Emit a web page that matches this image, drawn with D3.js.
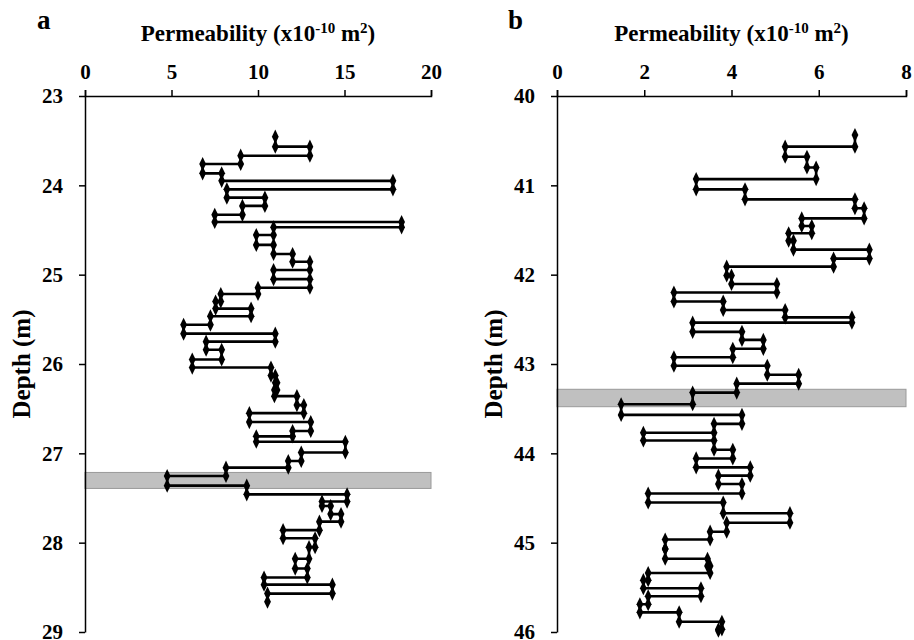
<!DOCTYPE html>
<html>
<head>
<meta charset="utf-8">
<script src="https://cdn.jsdelivr.net/npm/d3@7"></script>
<style>
  body { margin: 0; background: #fff; }
  svg text { font-family: 'Liberation Serif', 'Times New Roman', Times, serif !important; font-weight: bold; fill: #000; }
  .axis path, .axis line { stroke: #000; stroke-width: 1.5px; }
</style>
</head>
<body>
<div id="chart"></div>
<script>
// panel a - depth boundaries (m) and permeability of each interval (x10^-10 m2)
const depthA = [23.455, 23.567, 23.668, 23.761, 23.866, 23.95, 24.045, 24.138, 24.23, 24.33,
  24.41, 24.47, 24.556, 24.667, 24.768, 24.855, 24.948, 25.05, 25.146, 25.216,
  25.30, 25.38, 25.465, 25.56, 25.66, 25.75, 25.84, 25.95, 26.04, 26.13,
  26.21, 26.29, 26.36, 26.46, 26.55, 26.65, 26.75, 26.81, 26.87, 26.99,
  27.086, 27.16, 27.254, 27.362, 27.459, 27.54, 27.59, 27.68, 27.765, 27.86,
  27.95, 28.05, 28.18, 28.29, 28.39, 28.47, 28.57, 28.66];
const permA = [11.0, 13.0, 9.0, 6.8, 7.9, 17.8, 8.2, 10.4, 9.1, 7.5,
  18.3, 10.9, 9.9, 10.9, 12.0, 13.0, 10.9, 13.0, 10.0, 7.85,
  7.55, 9.6, 7.25, 5.7, 11.0, 7.0, 7.9, 6.2, 10.75, 11.0,
  11.1, 10.95, 12.25, 12.65, 9.5, 13.05, 12.0, 9.9, 15.05, 12.5,
  11.75, 8.15, 4.75, 9.35, 15.15, 13.7, 14.2, 14.8, 13.55, 11.45,
  13.3, 12.95, 12.15, 12.85, 10.35, 14.3, 10.55];

// panel b
const depthB = [40.437, 40.567, 40.68, 40.80, 40.93, 41.045, 41.157, 41.257, 41.37, 41.455,
  41.537, 41.62, 41.72, 41.82, 41.91, 42.01, 42.105, 42.20, 42.30, 42.396,
  42.478, 42.537, 42.64, 42.73, 42.83, 42.925, 43.02, 43.12, 43.22, 43.32,
  43.45, 43.57, 43.67, 43.77, 43.857, 43.96, 44.057, 44.157, 44.25, 44.343,
  44.45, 44.55, 44.67, 44.777, 44.877, 44.965, 45.07, 45.18, 45.26, 45.34,
  45.42, 45.51, 45.60, 45.69, 45.78, 45.885, 45.97, 45.985];
const permB = [6.83, 5.23, 5.73, 5.94, 3.19, 4.31, 6.83, 7.04, 5.61, 5.84,
  5.31, 5.42, 7.16, 6.34, 3.89, 4.0, 5.04, 2.68, 3.81, 5.23,
  6.76, 3.11, 4.24, 4.73, 4.03, 2.68, 4.82, 5.54, 4.12, 3.11,
  1.47, 4.24, 3.6, 1.98, 3.6, 4.03, 3.19, 4.43, 3.7, 4.24,
  2.09, 3.81, 5.34, 3.89, 3.51, 2.48, 2.48, 3.45, 3.51, 2.09,
  1.98, 3.3, 2.09, 1.9, 2.8, 3.78, 3.7];

// grey marker band (depth top, depth bottom)
const bandA = [27.214, 27.393];
const bandB = [43.283, 43.478];

const xTicksA = [0, 5, 10, 15, 20];
const xTicksB = [0, 2, 4, 6, 8];
const yTicksA = [23, 24, 25, 26, 27, 28, 29];
const yTicksB = [40, 41, 42, 43, 44, 45, 46];

const FONT = "'Liberation Serif', 'Times New Roman', Times, serif";

const svg = d3.select("#chart").append("svg")
  .attr("width", 914)
  .attr("height", 640)
  .attr("font-family", FONT);

class DepthChart {
  constructor(opts) {
    this.o = opts;
    this.initVis();
  }

  initVis() {
    let vis = this;
    let o = vis.o;

    vis.x = d3.scaleLinear().domain(o.xDomain).range([o.left, o.right]);
    vis.y = d3.scaleLinear().domain(o.yDomain).range([96, 632]);

    vis.g = svg.append("g");

    // grey band
    vis.g.append("rect")
      .attr("x", vis.x(o.xDomain[0]))
      .attr("y", vis.y(o.band[0]))
      .attr("width", vis.x(o.xDomain[1]) - vis.x(o.xDomain[0]))
      .attr("height", vis.y(o.band[1]) - vis.y(o.band[0]))
      .attr("fill", "#c0c0c0")
      .attr("stroke", "#9a9a9a")
      .attr("stroke-width", 1);

    // axes
    vis.g.append("g")
      .attr("class", "axis")
      .attr("transform", `translate(0,${vis.y(o.yDomain[0])})`)
      .call(d3.axisTop(vis.x).tickValues(o.xTicks).tickFormat(d3.format("d"))
        .tickSize(6).tickPadding(11).tickSizeOuter(6));

    vis.g.append("g")
      .attr("class", "axis")
      .attr("transform", `translate(${vis.x(o.xDomain[0])},0)`)
      .call(d3.axisLeft(vis.y).tickValues(o.yTicks).tickFormat(d3.format("d"))
        .tickSize(6).tickPadding(16).tickSizeOuter(0));

    vis.g.selectAll(".axis")
      .attr("font-family", FONT)
      .attr("font-size", 21);

    // points: each interval gives a top and a bottom point
    vis.points = [];
    o.perm.forEach((k, i) => {
      vis.points.push({x: k, d: o.depth[i]});
      vis.points.push({x: k, d: o.depth[i + 1]});
    });

    vis.line = d3.line()
      .x(d => vis.x(d.x))
      .y(d => vis.y(d.d));

    vis.g.append("path")
      .datum(vis.points)
      .attr("fill", "none")
      .attr("stroke", "#000")
      .attr("stroke-width", 2.6)
      .attr("d", vis.line);

    vis.g.selectAll(".mark")
      .data(vis.points)
      .enter().append("path")
      .attr("class", "mark")
      .attr("transform", d => `translate(${vis.x(d.x)},${vis.y(d.d)}) scale(1,1.2)`)
      .attr("d", d3.symbol().type(d3.symbolDiamond).size(40))
      .attr("fill", "#000");

    // titles
    let title = vis.g.append("text")
      .attr("x", (o.left + o.right) / 2)
      .attr("y", 41)
      .attr("text-anchor", "middle")
      .style("font-size", "23px");
    title.append("tspan").text("Permeability (x10");
    title.append("tspan").attr("dy", -8).style("font-size", "15px").text("-10");
    title.append("tspan").attr("dy", 8).text(" m");
    title.append("tspan").attr("dy", -8).style("font-size", "15px").text("2");
    title.append("tspan").attr("dy", 8).text(")");

    vis.g.append("text")
      .attr("x", o.labelX)
      .attr("y", 29)
      .style("font-size", "27px")
      .text(o.label);

    vis.g.append("text")
      .attr("transform", `translate(${o.left - 55},364) rotate(-90)`)
      .attr("text-anchor", "middle")
      .style("font-size", "25px")
      .text("Depth (m)");
  }
}

new DepthChart({
  left: 85, right: 431, xDomain: [0, 20], yDomain: [23, 29],
  xTicks: xTicksA, yTicks: yTicksA, depth: depthA, perm: permA,
  band: bandA, label: "a", labelX: 37
});

new DepthChart({
  left: 557, right: 906, xDomain: [0, 8], yDomain: [40, 46],
  xTicks: xTicksB, yTicks: yTicksB, depth: depthB, perm: permB,
  band: bandB, label: "b", labelX: 508
});
</script>
</body>
</html>
